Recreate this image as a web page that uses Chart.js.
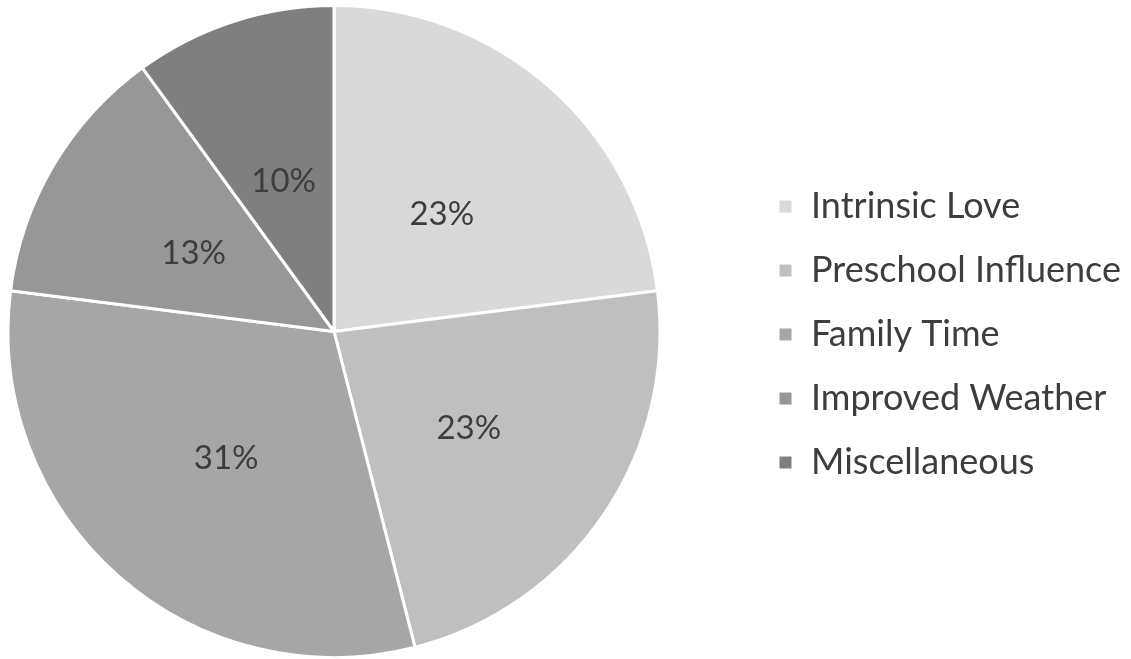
<!DOCTYPE html>
<html>
<head>
<meta charset="utf-8">
<title>Reasons</title>
<script src="https://cdn.jsdelivr.net/npm/chart.js@4/dist/chart.umd.min.js"></script>
<style>
    html, body { margin: 0; padding: 0; background: #ffffff; }
    #wrap { width: 1131px; height: 659px; }
</style>
</head>
<body>
<div id="wrap"><canvas id="pieChart" width="1131" height="659"></canvas></div>
<script>
const categories = ['Intrinsic Love', 'Preschool Influence', 'Family Time', 'Improved Weather', 'Miscellaneous'];
const shares = [23, 23, 31, 13, 10];
const sliceColors = ['#d9d9d9', '#bfbfbf', '#a6a6a6', '#979797', '#7f7f7f'];

const textColor = '#3d3d3d';
const fontFamily = 'Lato, "Open Sans", sans-serif';

// percent labels inside each slice
const sliceLabels = {
    id: 'sliceLabels',
    afterDatasetsDraw(chart) {
        const ctx = chart.ctx;
        const meta = chart.getDatasetMeta(0);
        ctx.save();
        ctx.font = '33px ' + fontFamily;
        ctx.fillStyle = textColor;
        ctx.textAlign = 'center';
        ctx.textBaseline = 'middle';
        meta.data.forEach((arc, i) => {
            const p = arc.getProps(['x', 'y', 'startAngle', 'endAngle', 'outerRadius'], true);
            const mid = (p.startAngle + p.endAngle) / 2;
            const r = p.outerRadius * 0.5;
            ctx.fillText(shares[i] + '%', p.x + Math.cos(mid) * r, p.y + Math.sin(mid) * r + 5);
        });
        ctx.restore();
    }
};

// keep the pie on the left and push the legend out to the right
const legendPlacement = {
    id: 'legendPlacement',
    beforeInit(chart) {
        const fit = chart.legend.fit;
        chart.legend.fit = function() {
            fit.call(this);
            this.width = 463;
        };
    },
    afterLayout(chart) {
        chart.legend.left += 82;
        chart.legend.right += 82;
        chart.legend.top += 3;
        chart.legend.bottom += 3;
    }
};

new Chart(document.getElementById('pieChart'), {
    type: 'pie',
    data: {
        labels: categories,
        datasets: [{
            data: shares,
            backgroundColor: sliceColors,
            borderColor: '#ffffff',
            borderWidth: 3
        }]
    },
    options: {
        responsive: false,
        animation: false,
        layout: { padding: { left: 0, top: 4, bottom: 0 } },
        plugins: {
            tooltip: { enabled: false },
            legend: {
                position: 'right',
                labels: {
                    boxWidth: 15,
                    boxHeight: 15,
                    padding: 28,
                    color: textColor,
                    font: { family: fontFamily, size: 36 }
                }
            }
        }
    },
    plugins: [sliceLabels, legendPlacement]
});
</script>
</body>
</html>
